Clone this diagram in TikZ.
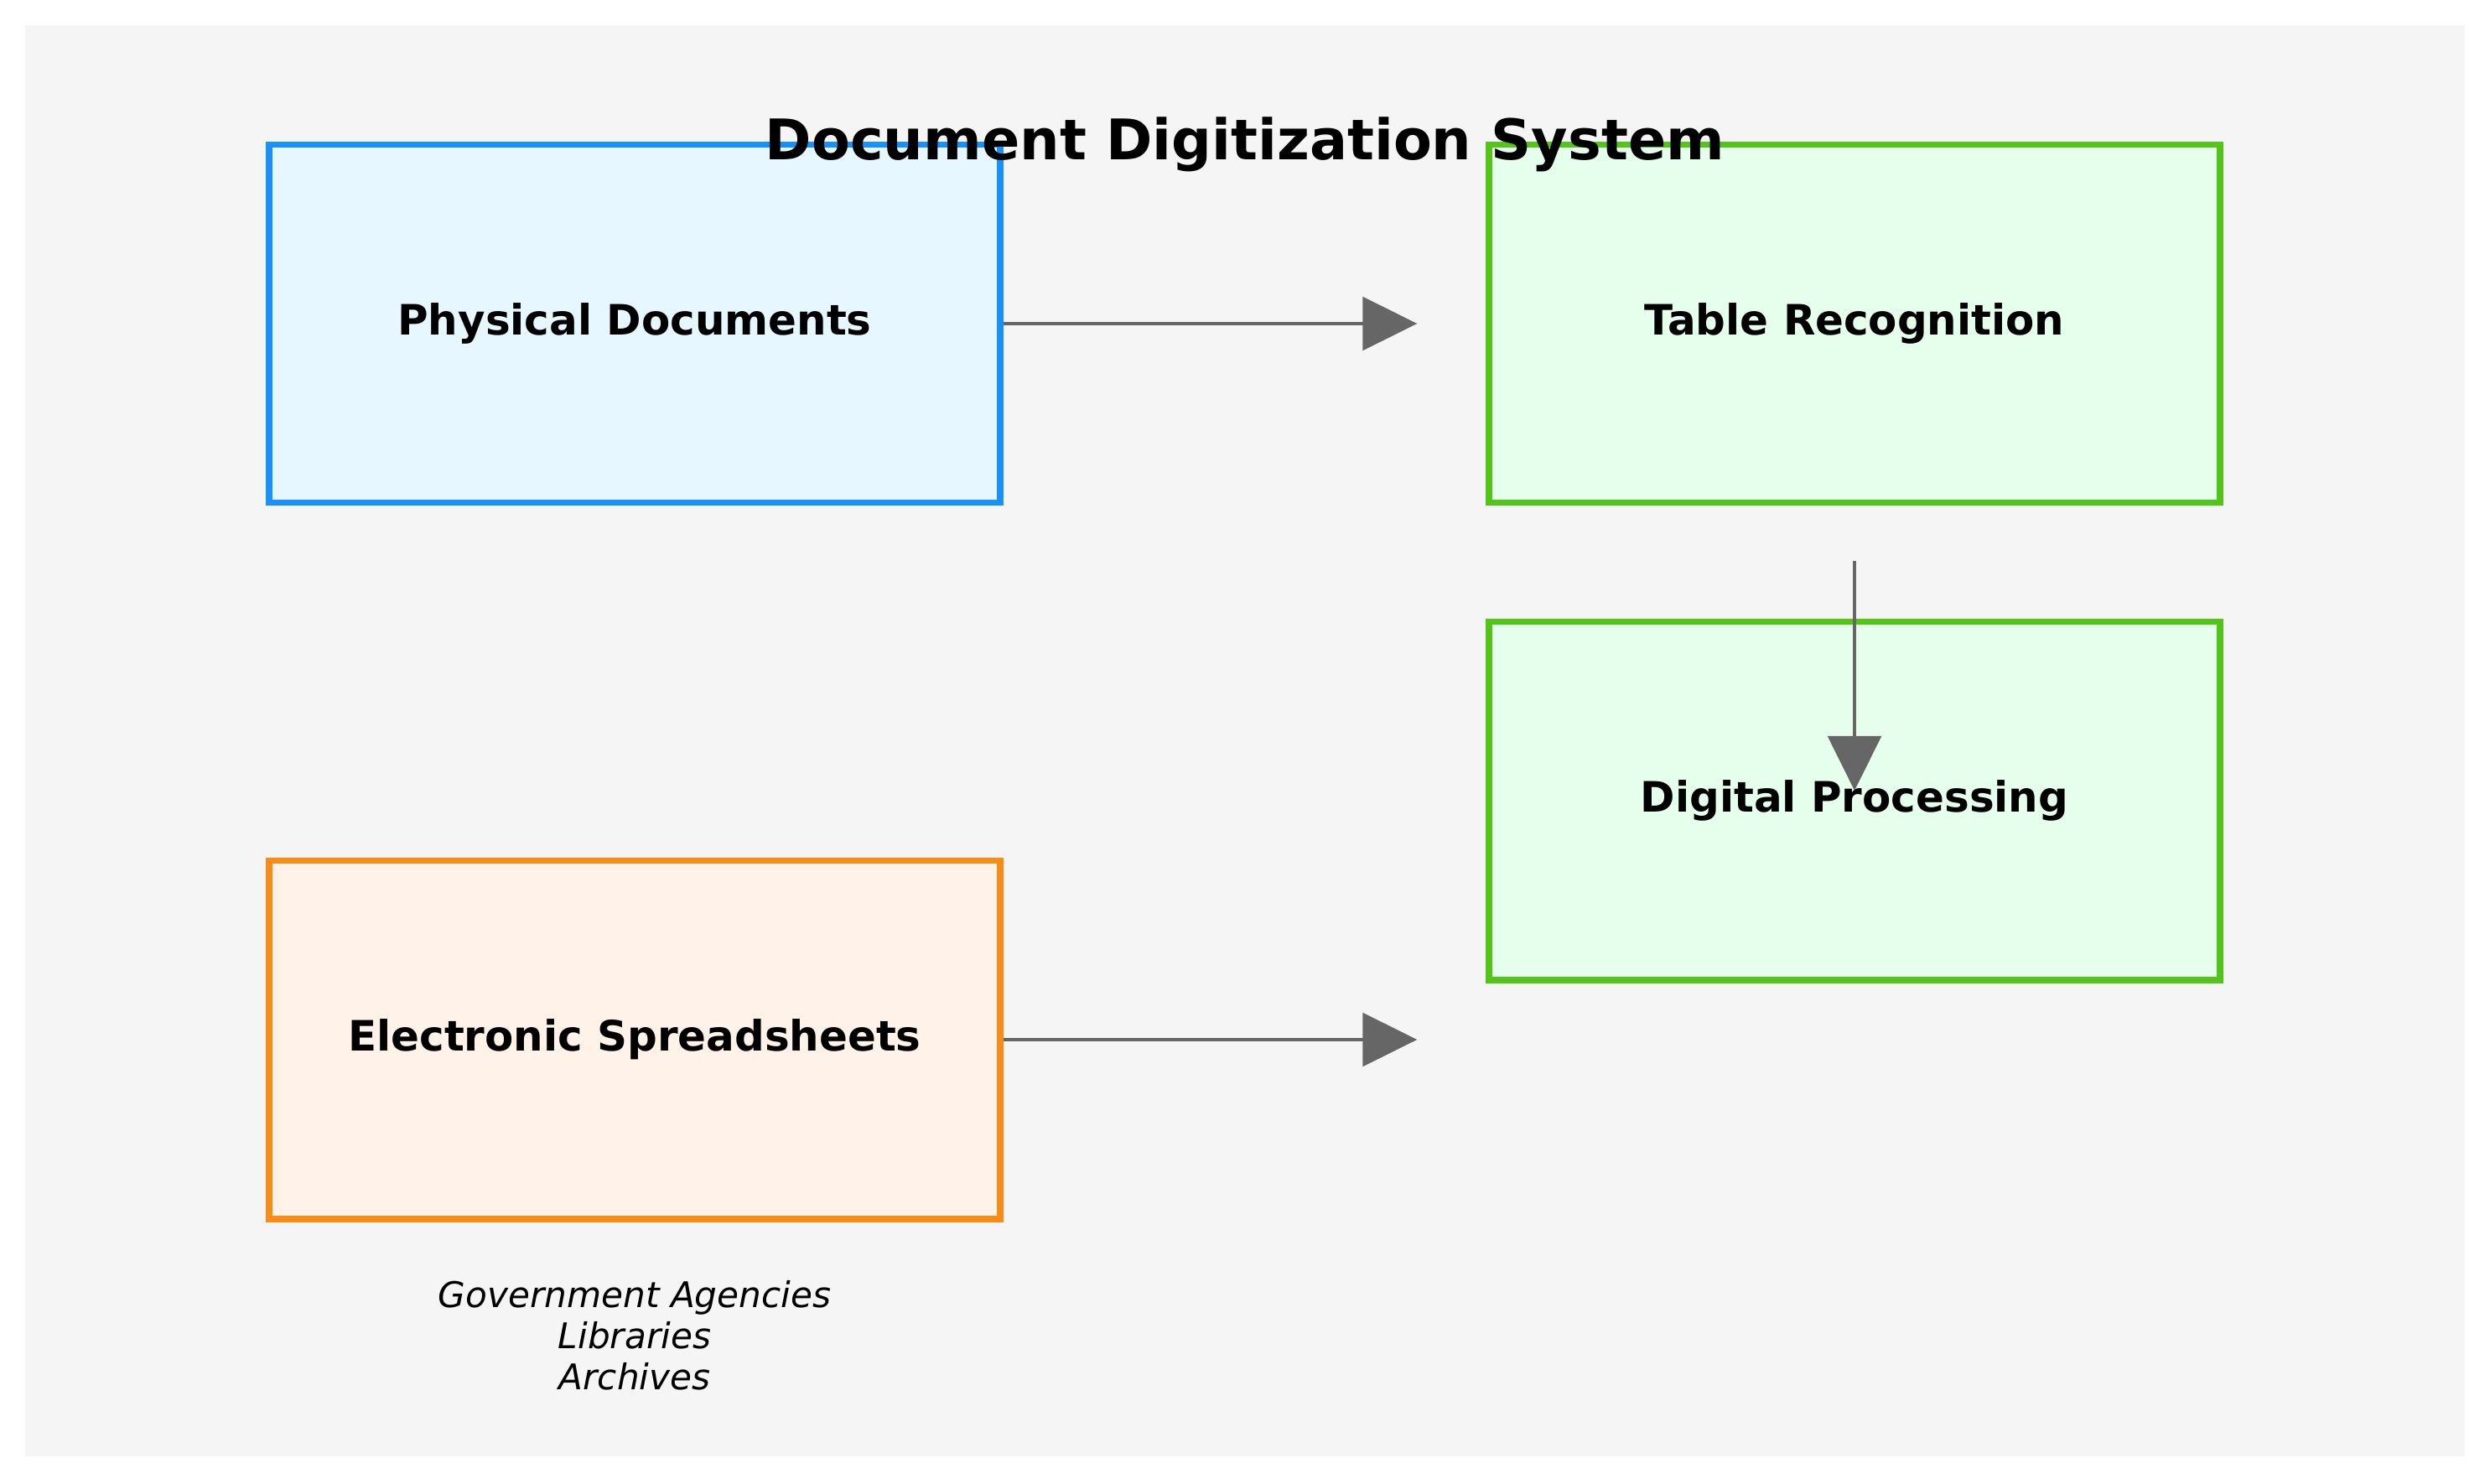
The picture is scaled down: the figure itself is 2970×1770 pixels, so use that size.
\documentclass[tikz,border=0pt]{standalone}
\usepackage{fontspec}
\setmainfont{DejaVu Sans}
\usetikzlibrary{arrows.meta,positioning}
\definecolor{canvas}{HTML}{F5F5F5}
\definecolor{physical}{HTML}{1890FF}
\definecolor{physfill}{HTML}{E6F7FF}
\definecolor{digital}{HTML}{52C41A}
\definecolor{digfill}{HTML}{E6FFEC}
\definecolor{electronic}{HTML}{FA8C16}
\definecolor{elecfill}{HTML}{FFF2E8}
\definecolor{flow}{HTML}{666666}

\begin{document}
\begin{tikzpicture}[
  x=0.01cm,y=-0.01cm,
  box/.style={draw,line width=2.2pt,minimum width=8.71cm,minimum height=4.27cm,font=\fontsize{14.2}{17}\selectfont\bfseries,align=center},
  flowarrow/.style={draw=flow,line width=1.4pt,-{Triangle[length=18.5pt,width=18pt]}},
]
  \useasboundingbox (0,0) rectangle (2970,1770);
  \fill[canvas] (30,30) rectangle (2940,1737);

  \node[box,draw=physical,fill=physfill] (phys) at (757,386) {Physical Documents};
  \node[box,draw=digital,fill=digfill] (tabrec) at (2212,386) {Table Recognition};
  \node[box,draw=digital,fill=digfill] (digproc) at (2212,955) {Digital Processing};
  \node[box,draw=electronic,fill=elecfill] (spread) at (757,1240) {Electronic Spreadsheets};
  \node[font=\fontsize{12}{14}\selectfont\itshape,align=center,below=0.57cm of spread] (sources) {Government Agencies\\Libraries\\Archives};

  \node[font=\fontsize{19}{23}\selectfont\bfseries] (title) at (1485,172) {Document Digitization System};

  \coordinate (a1end) at ([xshift=-0.82cm]tabrec.west);
  \coordinate (a2end) at (a1end |- spread.east);
  \coordinate (a3start) at ([yshift=-0.65cm]tabrec.south);
  \coordinate (a3end) at ([yshift=0.12cm]digproc.center);

  \draw[flowarrow] (phys.east) -- (a1end);
  \draw[flowarrow] (spread.east) -- (a2end);
  \draw[flowarrow] (a3start) -- (a3end);
\end{tikzpicture}
\end{document}
